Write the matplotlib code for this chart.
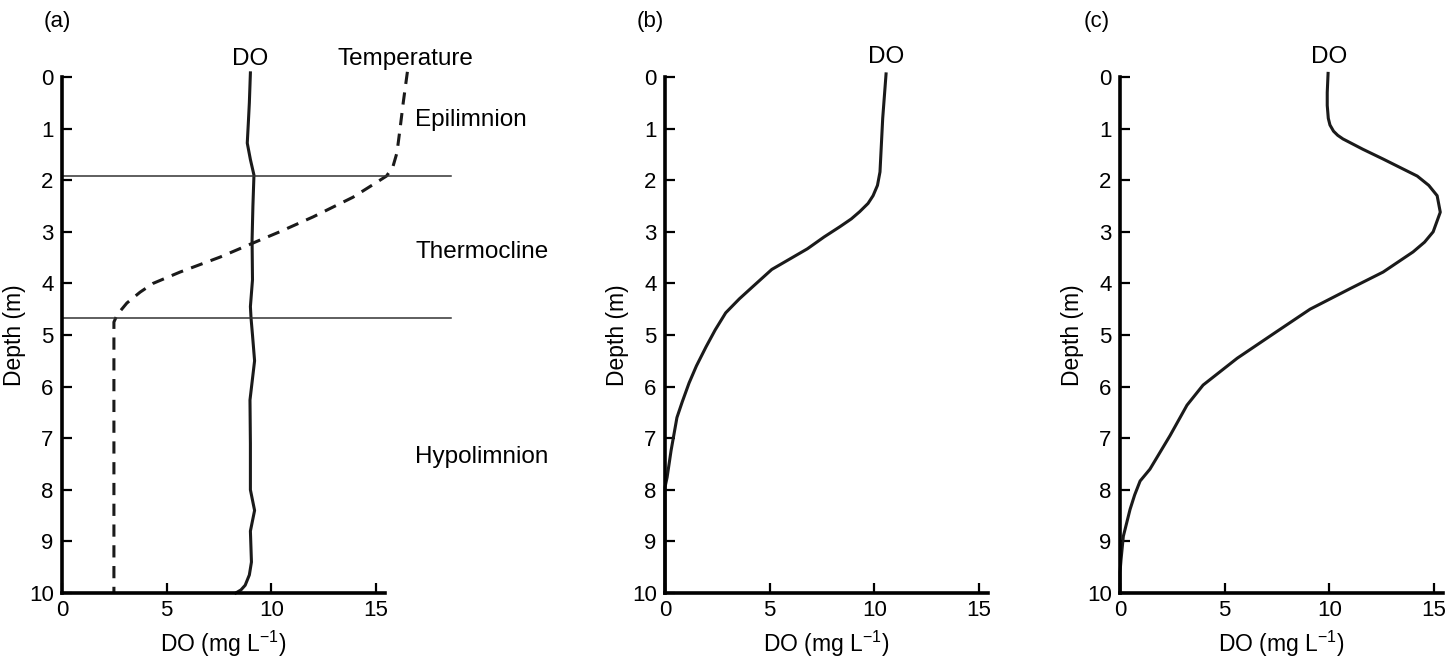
import matplotlib.pyplot as plt

plt.rcParams['font.family'] = ['Liberation Sans', 'DejaVu Sans']

# panel (a): stratified lake, DO and temperature profiles
a_do_depth = [-0.08, 0.5, 0.9, 1.28, 1.6, 1.9, 2.5, 3.16, 3.93, 4.45, 4.67, 5.0, 5.5,
              6.26, 7.1, 8.0, 8.4, 8.8, 9.4, 9.65, 9.85, 9.94, 10.0]
a_do = [9.0, 8.95, 8.9, 8.85, 9.0, 9.17, 9.12, 9.08, 9.1, 9.0, 9.03, 9.1, 9.2,
        8.98, 9.0, 9.0, 9.2, 9.0, 9.05, 8.95, 8.75, 8.55, 8.3]
a_temp_depth = [-0.1, 0.5, 1.0, 1.47, 1.75, 1.92, 2.1, 2.33, 2.71, 3.0, 3.16, 3.49,
                3.78, 4.0, 4.17, 4.38, 4.61, 4.75, 10.0]
a_temp = [16.5, 16.3, 16.15, 16.0, 15.8, 15.5, 14.8, 13.9, 12.0, 10.4, 9.46, 7.55,
          5.64, 4.35, 3.73, 3.1, 2.63, 2.48, 2.48]
layer_bounds = [1.92, 4.67]
layer_names = ['Epilimnion', 'Thermocline', 'Hypolimnion']
layer_label_depth = [0.83, 3.39, 7.36]

# panel (b)
b_depth = [-0.06, 0.8, 1.84, 2.1, 2.3, 2.45, 2.61, 2.75, 2.9, 3.1, 3.33, 3.73, 4.06,
           4.3, 4.57, 4.9, 5.23, 5.6, 5.93, 6.3, 6.6, 7.24, 7.76, 7.95, 10.0]
b_do = [10.56, 10.4, 10.27, 10.15, 9.94, 9.7, 9.3, 8.9, 8.36, 7.6, 6.8, 5.1, 4.2,
        3.55, 2.9, 2.4, 1.96, 1.5, 1.15, 0.82, 0.57, 0.29, 0.1, 0.0, 0.0]

# panel (c)
c_depth = [-0.07, 0.3, 0.55, 0.8, 0.93, 1.05, 1.13, 1.2, 1.4, 1.59, 1.92, 2.1, 2.3,
           2.62, 3.0, 3.2, 3.39, 3.78, 4.1, 4.5, 4.93, 5.45, 5.97, 6.36, 6.95, 7.6,
           7.83, 8.1, 8.38, 8.9, 9.35, 9.6, 10.0]
c_do = [9.94, 9.9, 9.9, 9.95, 10.03, 10.2, 10.4, 10.65, 11.6, 12.57, 14.2, 14.75,
        15.15, 15.3, 14.96, 14.55, 14.0, 12.57, 11.0, 9.08, 7.5, 5.6, 3.97, 3.2, 2.39,
        1.43, 0.96, 0.7, 0.48, 0.16, 0.05, 0.0, 0.0]

W, H = 1453, 664
fig = plt.figure(figsize=(W / 100, H / 100), dpi=100)

lefts = [62, 665, 1120]
axes = []
for left in lefts:
    ax = fig.add_axes([left / W, (H - 593) / H, 323 / W, 516 / H])
    ax.set_xlim(0, 15.43)
    ax.set_ylim(10, 0)
    for side in ['top', 'right']:
        ax.spines[side].set_visible(False)
    for side in ['left', 'bottom']:
        ax.spines[side].set_linewidth(2.6)
    ax.set_xticks([0, 5, 10, 15])
    ax.set_yticks(range(11))
    ax.tick_params(direction='in', length=7, width=1.6, labelsize=16)
    ax.tick_params(axis='x', pad=5)
    ax.tick_params(axis='y', pad=6)
    ax.set_xlabel('DO (mg L$^{\\mathregular{-1}}$)', fontsize=16.5, labelpad=6)
    ax.set_ylabel('Depth (m)', fontsize=16.5)
    ax.yaxis.set_label_coords(-0.11, 0.5)
    axes.append(ax)

ax_a, ax_b, ax_c = axes

line_kw = dict(color='#1a1a1a', lw=2.2, clip_on=False, solid_joinstyle='round')
ax_a.plot(a_do, a_do_depth, **line_kw)
ax_a.plot(a_temp, a_temp_depth, linestyle=(0, (4, 2.8)), **line_kw)
for d in layer_bounds:
    ax_a.plot([0, 18.6], [d, d], color='#333333', lw=1.1, clip_on=False)
for name, d in zip(layer_names, layer_label_depth):
    ax_a.text(16.87, d, name, fontsize=17.5, va='center', ha='left')
ax_a.text(9.0, -0.34, 'DO', fontsize=17.5, ha='center', va='center')
ax_a.text(16.4, -0.34, 'Temperature', fontsize=17.5, ha='center', va='center')

ax_b.plot(b_do, b_depth, **line_kw)
ax_b.text(10.56, -0.38, 'DO', fontsize=17.5, ha='center', va='center')

ax_c.plot(c_do, c_depth, **line_kw)
ax_c.text(10.0, -0.38, 'DO', fontsize=17.5, ha='center', va='center')

for label, x in zip(['(a)', '(b)', '(c)'], [57, 650, 1097]):
    fig.text(x / W, 1 - 21 / H, label, fontsize=16, ha='center', va='center')

fig.savefig('out.png', dpi=100)
